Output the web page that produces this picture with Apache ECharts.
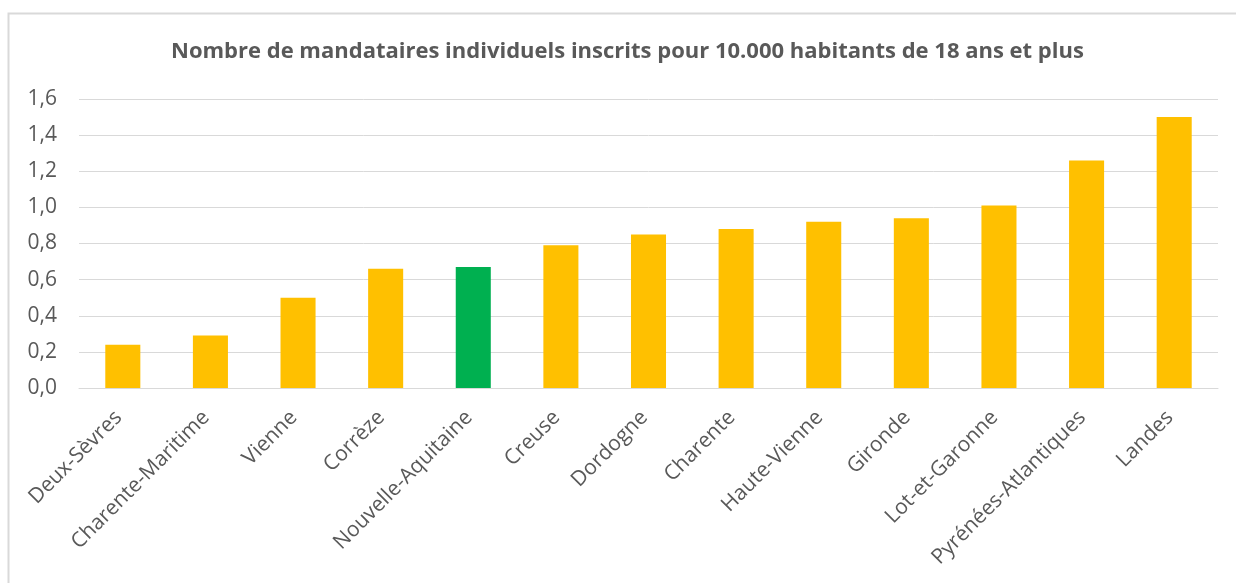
<!DOCTYPE html>
<html>
<head>
<meta charset="utf-8">
<script src="https://cdn.jsdelivr.net/npm/echarts@6/dist/echarts.min.js"></script>
<style>
  html, body { margin: 0; padding: 0; background: #fff; }
  #chart { width: 1236px; height: 583px; }
</style>
</head>
<body>
<div id="chart"></div>
<script>
// données
var departements = ["Deux-Sèvres", "Charente-Maritime", "Vienne", "Corrèze", "Nouvelle-Aquitaine", "Creuse",
  "Dordogne", "Charente", "Haute-Vienne", "Gironde", "Lot-et-Garonne", "Pyrénées-Atlantiques", "Landes"];
var valeurs = [0.24, 0.29, 0.50, 0.66, 0.67, 0.79, 0.85, 0.88, 0.92, 0.94, 1.01, 1.26, 1.50];
var region = "Nouvelle-Aquitaine";

var chart = echarts.init(document.getElementById("chart"));

var barData = valeurs.map(function(v, i) {
  return {
    value: v,
    itemStyle: { color: departements[i] === region ? "#00B050" : "#FFC000" }
  };
});

chart.setOption({
  animation: false,
  textStyle: { fontFamily: "Open Sans" },
  graphic: [{
    type: "rect",
    shape: { x: 8.5, y: 13.5, width: 1240, height: 600 },
    style: { fill: null, stroke: "#d9d9d9", lineWidth: 2 }
  }],
  title: {
    text: "Nombre de mandataires individuels inscrits pour 10.000 habitants de 18 ans et plus",
    left: 166,
    top: 36,
    textStyle: { fontSize: 22, fontWeight: "bold", color: "#595959", fontFamily: "Open Sans" }
  },
  grid: { left: 79, right: 18, top: 99, bottom: 195, containLabel: false },
  xAxis: {
    type: "category",
    data: departements,
    axisLine: { lineStyle: { color: "#d9d9d9", width: 1 } },
    axisTick: { show: false },
    axisLabel: { rotate: 45, color: "#595959", fontSize: 21, margin: 22, padding: [0, 6, 0, 0], interval: 0 }
  },
  yAxis: {
    type: "value",
    min: 0,
    max: 1.6,
    interval: 0.2,
    axisLine: { show: false },
    axisTick: { show: false },
    splitLine: { lineStyle: { color: "#d9d9d9", width: 1 } },
    axisLabel: {
      color: "#595959",
      fontSize: 21,
      margin: 22,
      formatter: function(v) { return v.toFixed(1).replace(".", ","); }
    }
  },
  series: [{
    type: "bar",
    data: barData,
    barWidth: "40%"
  }]
});
</script>
</body>
</html>
